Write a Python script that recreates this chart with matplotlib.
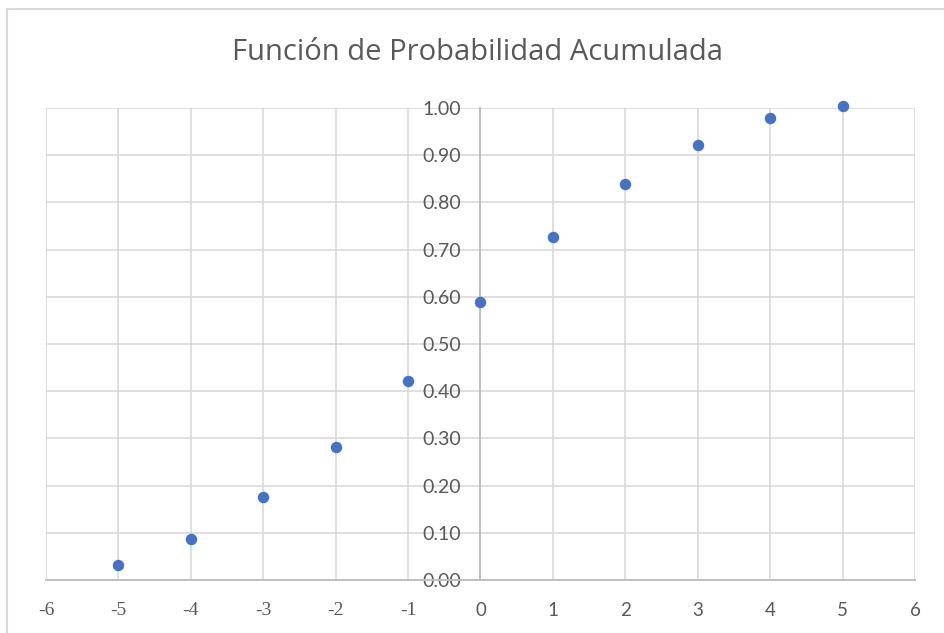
import matplotlib
matplotlib.use("Agg")
import matplotlib.pyplot as plt
from matplotlib.patches import Rectangle

x_values = [-5, -4, -3, -2, -1, 0, 1, 2, 3, 4, 5]
cdf_values = [0.032, 0.087, 0.175, 0.281, 0.421, 0.590, 0.727, 0.839, 0.922, 0.979, 1.005]
x_ticks = [-6, -5, -4, -3, -2, -1, 0, 1, 2, 3, 4, 5, 6]
y_ticks = [0.0, 0.1, 0.2, 0.3, 0.4, 0.5, 0.6, 0.7, 0.8, 0.9, 1.0]
title = "Función de Probabilidad Acumulada"

W, H = 945, 633
fig = plt.figure(figsize=(W / 100, H / 100), dpi=100)
fig.patch.set_facecolor("white")

# chart-area border (left & top visible)
fig.patches.append(Rectangle((7 / W, -0.1), 1.5, (H - 9) / H + 0.1,
                             transform=fig.transFigure, fill=False,
                             edgecolor="#d9d9d9", linewidth=1.5))

left, right, top, bottom = 46, 915, 108, 580
ax = fig.add_axes([left / W, (H - bottom) / H, (right - left) / W, (bottom - top) / H])

grid_c = "#d9d9d9"
axis_c = "#bfbfbf"
text_c = "#595959"

ax.set_xlim(-6, 6)
ax.set_ylim(0, 1)
ax.set_xticks(x_ticks)
ax.set_yticks(y_ticks)
ax.grid(True, color=grid_c, linewidth=1.2, zorder=0)
ax.set_axisbelow(True)

for s in ["top", "right"]:
    ax.spines[s].set_visible(False)
ax.spines["left"].set_position(("data", 0))
ax.spines["left"].set_color(axis_c)
ax.spines["left"].set_linewidth(1.4)
ax.spines["bottom"].set_color(axis_c)
ax.spines["bottom"].set_linewidth(1.4)

ax.tick_params(axis="both", length=0, colors=text_c)
ax.tick_params(axis="y", pad=14)
ax.tick_params(axis="x", pad=16)

ax.set_yticklabels([f"{v:.2f}" for v in y_ticks], fontfamily="Lato", fontsize=14, color=text_c)
ax.set_xticklabels([str(v) for v in x_ticks], fontsize=13.5, color=text_c)
for lbl, v in zip(ax.get_xticklabels(), x_ticks):
    if v < 0:
        lbl.set_fontfamily("Liberation Serif")
        lbl.set_fontsize(14)
    else:
        lbl.set_fontfamily("Lato")

ax.scatter(x_values, cdf_values, s=68, color="#4472C4", zorder=3, clip_on=False, linewidths=0)

fig.text(478 / W, 1 - 52 / H, title, ha="center", va="center", fontsize=21,
         fontfamily="Open Sans", color=text_c)

fig.savefig("out.png", dpi=100)
